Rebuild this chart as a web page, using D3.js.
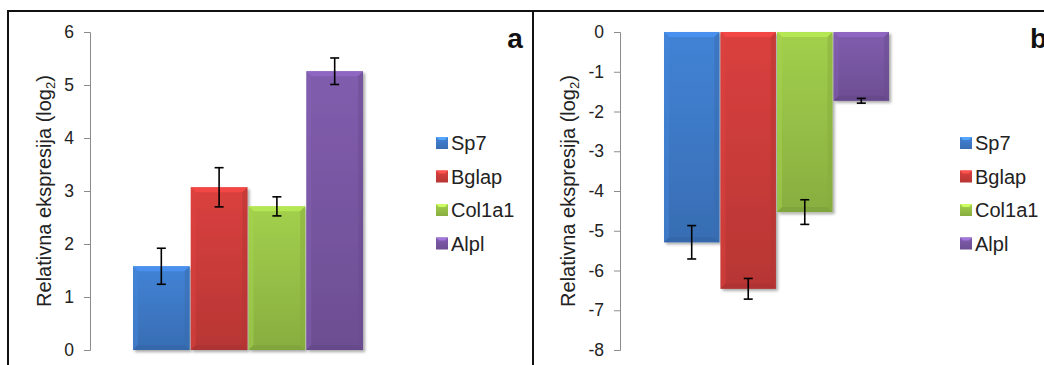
<!DOCTYPE html>
<html>
<head>
<meta charset="utf-8">
<script src="https://cdn.jsdelivr.net/npm/d3@7"></script>
<style>
  html, body { margin: 0; padding: 0; background: #fff; }
  svg { display: block; font-family: "Liberation Sans", Arial, sans-serif; }
</style>
</head>
<body>
<svg id="chart" width="1044" height="365"></svg>
<script>
// Gene expression data (log2 relative expression)
const genes = ["Sp7", "Bglap", "Col1a1", "Alpl"];
const colors = ["#3f7ccb", "#cf3d3b", "#9ac548", "#7a58a5"];

const valuesA = [1.58, 3.07, 2.71, 5.26];
const errorsA = [0.34, 0.37, 0.18, 0.25];
const ticksA = [0, 1, 2, 3, 4, 5, 6];

const valuesB = [-5.29, -6.46, -4.53, -1.73];
const errorsB = [0.42, 0.26, 0.31, 0.06];
const ticksB = [0, -1, -2, -3, -4, -5, -6, -7, -8];

const yTitle = "Relativna ekspresija (log";

const svg = d3.select("#chart");
const defs = svg.append("defs");

// Bevelled bar fills
genes.forEach((g, i) => {
  const c = d3.color(colors[i]);
  const grad = defs.append("linearGradient")
    .attr("id", "grad" + i).attr("x1", 0).attr("y1", 0).attr("x2", 0).attr("y2", 1);
  grad.append("stop").attr("offset", "0%").attr("stop-color", c.brighter(0.15));
  grad.append("stop").attr("offset", "100%").attr("stop-color", c.darker(0.35));
});
const shadow = defs.append("filter").attr("id", "shadow")
  .attr("x", "-20%").attr("y", "-20%").attr("width", "150%").attr("height", "150%");
shadow.append("feDropShadow").attr("dx", 2).attr("dy", 2)
  .attr("stdDeviation", 1.8).attr("flood-color", "#000").attr("flood-opacity", 0.35);

// Frame lines
svg.append("line").attr("x1", 8).attr("x2", 1044).attr("y1", 11).attr("y2", 11)
  .attr("stroke", "#111").attr("stroke-width", 2);
svg.append("line").attr("x1", 8).attr("x2", 8).attr("y1", 10).attr("y2", 365)
  .attr("stroke", "#111").attr("stroke-width", 2);
svg.append("line").attr("x1", 533).attr("x2", 533).attr("y1", 10).attr("y2", 365)
  .attr("stroke", "#111").attr("stroke-width", 2);

function drawBar(g, x, y, w, h, i) {
  const b = 5;
  g.append("rect").attr("x", x).attr("y", y).attr("width", w).attr("height", h)
    .attr("fill", `url(#grad${i})`).attr("filter", "url(#shadow)");
  const c = d3.color(colors[i]);
  // top bevel
  g.append("path")
    .attr("d", `M${x},${y}L${x + w},${y}L${x + w - b},${y + b}L${x + b},${y + b}Z`)
    .attr("fill", c.brighter(0.5)).attr("opacity", 0.85);
  // left bevel
  g.append("path")
    .attr("d", `M${x},${y}L${x + b},${y + b}L${x + b},${y + h - b}L${x},${y + h}Z`)
    .attr("fill", c.brighter(0.2)).attr("opacity", 0.5);
  // right bevel
  g.append("path")
    .attr("d", `M${x + w},${y}L${x + w - b},${y + b}L${x + w - b},${y + h - b}L${x + w},${y + h}Z`)
    .attr("fill", c.darker(0.4)).attr("opacity", 0.5);
  // bottom bevel
  g.append("path")
    .attr("d", `M${x},${y + h}L${x + b},${y + h - b}L${x + w - b},${y + h - b}L${x + w},${y + h}Z`)
    .attr("fill", c.darker(0.6)).attr("opacity", 0.55);
}

function panel(opts) {
  const g = svg.append("g");
  const y = d3.scaleLinear().domain(opts.domain).range([opts.yBottom, opts.yTop]);
  const x = d3.scaleBand().domain(genes).range(opts.xRange).paddingInner(0.02);

  // Axis
  const axis = d3.axisLeft(y).tickValues(opts.ticks).tickSize(6).tickPadding(10)
    .tickFormat(d => d < 0 ? "-" + Math.abs(d) : d);
  const ag = g.append("g").attr("transform", `translate(${opts.axisX},0)`).call(axis);
  ag.select(".domain").attr("stroke", "#8c8c8c").attr("stroke-width", 1);
  ag.selectAll(".tick line").attr("stroke", "#8c8c8c");
  ag.selectAll(".tick text").attr("fill", "#222").style("font-size", "17.5px")
    .style("font-family", "Liberation Sans, Arial, sans-serif");

  // Bars
  genes.forEach((gene, i) => {
    const v = opts.values[i];
    const y0 = y(Math.max(0, v)), y1 = y(Math.min(0, v));
    drawBar(g, x(gene), y0, x.bandwidth(), y1 - y0, i);
  });

  // Error bars
  genes.forEach((gene, i) => {
    const v = opts.values[i], e = opts.errors[i];
    const cx = x(gene) + x.bandwidth() / 2;
    const eg = g.append("g").attr("stroke", "#000").attr("stroke-width", 1.6);
    eg.append("line").attr("x1", cx).attr("x2", cx).attr("y1", y(v - e)).attr("y2", y(v + e));
    eg.append("line").attr("x1", cx - 4.5).attr("x2", cx + 4.5).attr("y1", y(v - e)).attr("y2", y(v - e));
    eg.append("line").attr("x1", cx - 4.5).attr("x2", cx + 4.5).attr("y1", y(v + e)).attr("y2", y(v + e));
  });

  // Axis title
  const t = g.append("text")
    .attr("transform", `translate(${opts.titleX},${(opts.yTop + opts.yBottom) / 2}) rotate(-90)`)
    .attr("text-anchor", "middle").attr("fill", "#222").style("font-size", "20px");
  t.append("tspan").text(yTitle);
  t.append("tspan").attr("dy", 4).style("font-size", "13px").text("2");
  t.append("tspan").attr("dy", -4).text(")");

  // Panel letter
  g.append("text").attr("x", opts.letterX).attr("y", 48).attr("text-anchor", opts.letterAnchor)
    .attr("font-weight", "bold").style("font-size", "28px").attr("fill", "#111").text(opts.letter);

  // Legend
  const lg = g.append("g");
  genes.forEach((gene, i) => {
    const ly = 143 + i * 33.5;
    const c = d3.color(colors[i]);
    lg.append("rect").attr("x", opts.legendX).attr("y", ly - 6).attr("width", 12).attr("height", 12)
      .attr("fill", `url(#grad${i})`);
    lg.append("path")
      .attr("d", `M${opts.legendX},${ly - 6}h12l-3,3h-6z`).attr("fill", c.brighter(0.8));
    lg.append("text").attr("x", opts.legendX + 15).attr("y", ly + 7)
      .attr("fill", "#222").style("font-size", "20px").text(gene);
  });
}

panel({
  values: valuesA, errors: errorsA, ticks: ticksA, domain: [0, 6],
  yBottom: 350, yTop: 32, axisX: 90, xRange: [133, 363],
  titleX: 51, letter: "a", letterX: 515, letterAnchor: "middle", legendX: 436
});
panel({
  values: valuesB, errors: errorsB, ticks: ticksB, domain: [-8, 0],
  yBottom: 350, yTop: 32, axisX: 620, xRange: [664, 889],
  titleX: 575, letter: "b", letterX: 1030, letterAnchor: "start", legendX: 960
});
</script>
</body>
</html>
